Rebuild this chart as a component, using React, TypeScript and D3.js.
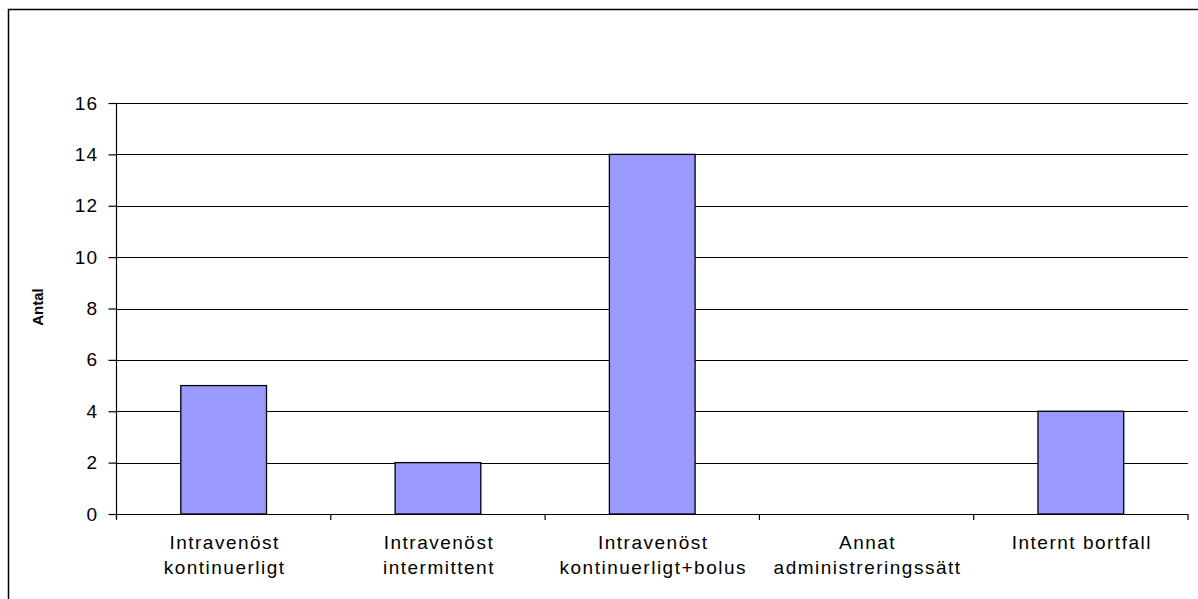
import { useEffect, useRef } from "react";
import * as d3 from "d3";

const categories = [
  ["Intravenöst", "kontinuerligt"],
  ["Intravenöst", "intermittent"],
  ["Intravenöst", "kontinuerligt+bolus"],
  ["Annat", "administreringssätt"],
  ["Internt bortfall"],
];
const values = [5, 2, 14, 0, 4];
const yTicks = [0, 2, 4, 6, 8, 10, 12, 14, 16];

const W = 1198;
const H = 599;
const PL = 116.5, PR = 1188, PT = 103, PB = 514;
const FONT = "'Liberation Sans', Arial, sans-serif";

export default function App() {
  const ref = useRef<SVGSVGElement>(null);

  useEffect(() => {
    const svg = d3.select(ref.current);
    svg.selectAll("*").remove();

    const x = d3.scaleBand<number>().domain(d3.range(categories.length)).range([PL, PR]);
    const y = d3.scaleLinear().domain([0, 16]).range([PB, PT]);

    // outer frame (right and bottom edges fall outside the picture)
    svg.append("rect")
      .attr("x", 8.5).attr("y", 9.5)
      .attr("width", W + 10).attr("height", H + 10)
      .attr("fill", "#fff").attr("stroke", "#000").attr("stroke-width", 1.5);

    // gridlines
    svg.append("g").selectAll("line").data(yTicks.filter(d => d > 0)).join("line")
      .attr("x1", PL).attr("x2", PR)
      .attr("y1", d => Math.round(y(d)) + 0.5).attr("y2", d => Math.round(y(d)) + 0.5)
      .attr("stroke", "#000").attr("stroke-width", 1.2);

    // bars, gap width 150%
    const bw = x.bandwidth() / 2.5;
    svg.append("g").selectAll("rect").data(values).join("rect")
      .attr("x", (_, i) => x(i)! + (x.bandwidth() - bw) / 2)
      .attr("y", d => y(d))
      .attr("width", bw)
      .attr("height", d => PB - y(d))
      .attr("fill", "#9999ff")
      .attr("stroke", d => (d > 0 ? "#000" : "none"))
      .attr("stroke-width", 1.3);

    // y axis
    const ya = svg.append("g").attr("transform", `translate(${PL},0)`)
      .call(d3.axisLeft(y).tickValues(yTicks).tickSize(8).tickPadding(10.5));
    ya.select(".domain").attr("d", `M0,${PT}V${PB + 4}`).attr("stroke", "#000").attr("stroke-width", 1.2);
    ya.selectAll("line").attr("stroke", "#000").attr("stroke-width", 1.2);
    ya.selectAll("text")
      .attr("font-family", FONT).attr("font-size", 19).attr("letter-spacing", 1)
      .attr("fill", "#000");

    // x axis
    svg.append("line")
      .attr("x1", PL).attr("x2", PR).attr("y1", PB + 0.5).attr("y2", PB + 0.5)
      .attr("stroke", "#000").attr("stroke-width", 1.2);
    svg.append("g").selectAll("line").data(d3.range(categories.length + 1)).join("line")
      .attr("x1", i => (i < categories.length ? x(i)! : PR))
      .attr("x2", i => (i < categories.length ? x(i)! : PR))
      .attr("y1", PB).attr("y2", PB + 6)
      .attr("stroke", "#000").attr("stroke-width", 1.2);

    const lbl = svg.append("g").selectAll("text").data(categories).join("text")
      .attr("x", (_, i) => x(i)! + x.bandwidth() / 2 + 1)
      .attr("y", 549)
      .attr("text-anchor", "middle")
      .attr("font-family", FONT).attr("font-size", 19).attr("letter-spacing", 1.5)
      .attr("fill", "#000");
    lbl.selectAll("tspan").data(d => d).join("tspan")
      .attr("x", function () { return (this.parentNode as SVGTextElement).getAttribute("x"); })
      .attr("dy", (_, j) => (j === 0 ? 0 : 25))
      .text(d => d);

    svg.append("text")
      .attr("transform", `translate(43,307) rotate(-90)`)
      .attr("text-anchor", "middle")
      .attr("font-family", FONT).attr("font-size", 15).attr("font-weight", "bold")
      .text("Antal");
  }, []);

  return (
    <svg ref={ref} width={W} height={H}
      style={{ position: "absolute", left: 0, top: 0, display: "block" }} />
  );
}
